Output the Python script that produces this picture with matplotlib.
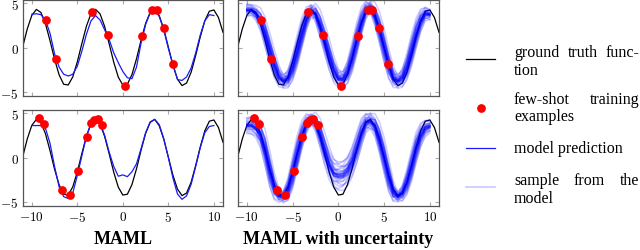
import numpy as np
import matplotlib
matplotlib.use("Agg")
from matplotlib import pyplot as plt

plt.rcParams['font.family'] = ['Liberation Serif', 'DejaVu Serif']
plt.rcParams['mathtext.fontset'] = 'cm'

# x positions for the curves
x_truth = np.arange(-11, 11.01, 0.5)
x_pred = np.arange(-10, 10.01, 0.5)

truth = [0.08, 2.09, 3.62, 4.29, 3.95, 2.68, 0.78, -1.31, -3.07, -4.13, -4.21,
         -3.30, -1.60, 0.46, 2.41, 3.81, 4.30, 3.78, 2.37, 0.41, -1.65, -3.33,
         -4.22, -4.12, -3.04, -1.26, 0.83, 2.71, 3.96, 4.29, 3.57, 2.05, 0.03,
         -1.99, -3.55, -4.28, -3.99, -2.77, -0.89, 1.19, 3.00, 4.09, 4.23, 3.38, 1.72]

# task 1 (top row)
train_x_top = [-8.45, -7.35, -3.34, -1.68, 0.24, 2.12, 3.23, 3.70, 4.48, 5.47]
train_y_top = [3.15, -1.30, 4.00, 1.38, -4.35, 1.27, 4.27, 4.27, 2.17, -1.80]
maml_top = [3.75, 3.8, 3.7, 3.1, 1.6, -0.7, -2.2, -3.0, -3.2, -3.0, -2.1,
            -0.4, 1.5, 3.0, 3.6, 3.1, 2.0, 0.9, -0.6, -1.7, -2.7, -3.4, -3.5,
            -2.2, 0.5, 2.6, 3.9, 4.25, 3.5, 2.0, -0.1, -1.9, -3.6, -3.7, -3.3,
            -2.3, -0.6, 1.4, 3.0, 3.7, 3.6]
unc_mean_top = [4.2, 4.2, 3.8, 3.0, 1.5, -0.3, -2.0, -3.3, -3.8, -3.5, -2.3,
                -0.5, 1.5, 3.2, 4.1, 3.8, 2.5, 0.8, -1.0, -2.6, -3.5, -3.6, -2.8,
                -1.2, 0.8, 2.8, 4.2, 4.5, 3.6, 2.0, 0.0, -2.0, -3.4, -3.8, -3.4,
                -2.2, -0.4, 1.5, 3.0, 3.8, 3.7]
unc_spread_top = [0.7, 0.6, 0.6, 0.7, 0.8, 0.8, 0.8, 0.8, 0.8, 0.8, 0.8,
                  0.8, 0.8, 0.7, 0.7, 0.7, 0.8, 0.8, 0.9, 0.9, 0.9, 0.9, 0.8,
                  0.8, 0.8, 0.7, 0.7, 0.6, 0.7, 0.8, 0.8, 0.8, 0.8, 0.8, 0.8,
                  0.8, 0.9, 0.9, 0.8, 0.7, 0.6]

# task 2 (bottom row)
train_x_bot = [-9.23, -8.64, -6.72, -5.80, -4.88, -3.96, -3.48, -3.15, -2.74, -2.27]
train_y_bot = [4.46, 3.74, -3.60, -4.23, -1.54, 2.32, 3.90, 4.20, 4.38, 3.63]
maml_bot = [3.6, 3.6, 3.6, 3.3, 1.6, -1.0, -3.3, -4.4, -4.6, -4.0, -2.0,
            0.2, 2.4, 3.8, 4.3, 3.9, 2.5, 0.6, -1.0, -2.1, -1.95, -2.15, -1.6,
            -0.7, 1.0, 2.8, 4.0, 4.3, 3.7, 2.1, 0.0, -2.3, -4.1, -4.7, -4.3,
            -3.0, -1.0, 1.1, 2.8, 3.5, 3.6]
unc_mean_bot = [3.6, 3.6, 3.3, 2.5, 0.8, -1.5, -3.4, -4.3, -4.4, -3.6, -1.8,
                0.4, 2.4, 3.8, 4.3, 3.9, 2.6, 0.8, -0.8, -1.8, -2.1, -2.0, -1.5,
                -0.5, 1.0, 2.7, 3.9, 4.1, 3.5, 2.0, 0.0, -2.2, -3.9, -4.4, -4.0,
                -2.8, -1.0, 1.0, 2.5, 3.3, 3.5]
unc_spread_bot = [0.9, 1.0, 1.0, 1.0, 1.0, 0.9, 0.8, 0.6, 0.6, 0.7, 0.8,
                  0.8, 0.8, 0.7, 0.6, 0.7, 0.8, 1.0, 1.3, 1.5, 1.6, 1.6, 1.5,
                  1.3, 1.1, 1.0, 0.9, 0.9, 0.8, 0.8, 0.8, 0.8, 0.6, 0.6, 0.6,
                  0.7, 0.8, 0.9, 0.9, 0.8, 0.7]

# where each drawn sample sits: vertical offset and sideways shift (in x units)
sample_pos = [-1.0, -0.85, -0.7, -0.55, -0.45, -0.35, -0.28, -0.2, -0.15, -0.1,
              -0.06, -0.03, 0.0, 0.02, 0.05, 0.08, 0.12, 0.16, 0.2, 0.25, 0.3,
              0.38, 0.46, 0.55, 0.65, 0.78, 0.9, 1.0,
              -0.12, -0.04, 0.04, 0.1, -0.08, 0.14]
sample_shift = [0.12, -0.18, 0.03, 0.25, -0.09, 0.15, -0.27, 0.06, -0.03, 0.18,
                -0.12, 0.0, 0.09, -0.21, 0.27, -0.06, 0.03, -0.15, 0.21, -0.24,
                0.06, 0.15, -0.09, -0.3, 0.1, 0.3, -0.13, 0.04,
                0.02, -0.05, 0.05, -0.02, 0.08, -0.08]

titles = ["MAML", "MAML with uncertainty"]
legend_rows = [
    (["ground", "truth", "func-"], ["tion"]),
    (["few-shot", "training"], ["examples"]),
    (["model", "prediction"], None),
    (["sample", "from", "the"], ["model"]),
]

frame_col = '#555555'
tick_col = '#aaaaaa'
sample_col = '#c8c8ff'
pred_col = '#1a1aff'


def style_axes(ax, xlabels, ylabels):
    ax.set_xlim(-11, 11)
    ax.set_ylim(-5.45, 5.35)
    ax.set_xticks([-10, -5, 0, 5, 10])
    ax.set_yticks([-5, 0, 5])
    ax.tick_params(direction='in', length=3, width=0.8, color=tick_col,
                   top=True, right=True, labelsize=9.5, pad=3,
                   labelbottom=xlabels, labelleft=ylabels)
    if xlabels:
        ax.set_xticklabels(['$-10$', '$-5$', '$0$', '$5$', '$10$'])
    if ylabels:
        ax.set_yticklabels(['$-5$', '$0$', '$5$'])
    for s in ax.spines.values():
        s.set_color(frame_col)
        s.set_linewidth(0.9)


def draw_points(ax, tx, ty):
    ax.plot(tx, ty, 'o', color='red', ms=6.3, mec='none', zorder=5)


fig = plt.figure(figsize=(6.4, 2.51), dpi=100)
W, H = 640, 251
rows = [
    (train_x_top, train_y_top, maml_top, unc_mean_top, unc_spread_top, 154),
    (train_x_bot, train_y_bot, maml_bot, unc_mean_bot, unc_spread_bot, 44),
]
for i, (tx, ty, pred, mean, spread, y0) in enumerate(rows):
    last = i == 1
    ax1 = fig.add_axes([22.7 / W, y0 / H, 200.3 / W, 96 / H])
    ax1.plot(x_truth, truth, color='black', lw=0.9)
    ax1.plot(x_pred, pred, color=pred_col, lw=0.9)
    draw_points(ax1, tx, ty)
    style_axes(ax1, last, True)

    ax2 = fig.add_axes([237.7 / W, y0 / H, 201.3 / W, 96 / H])
    ax2.plot(x_truth, truth, color='black', lw=0.9)
    mean = np.array(mean)
    spread = np.array(spread)
    slope = np.gradient(mean, x_pred)
    for p, s in zip(sample_pos, sample_shift):
        ax2.plot(x_pred, mean + p * spread - s * slope * 1.3,
                 color='blue', alpha=0.2, lw=1.1)
    draw_points(ax2, tx, ty)
    style_axes(ax2, last, False)

fig.text(123.5 / W, 1 - 240 / H, titles[0], ha='center', va='center',
         fontsize=13, fontweight='bold')
fig.text(338 / W, 1 - 240 / H, titles[1], ha='center', va='center',
         fontsize=13, fontweight='bold')

# legend drawn by hand in pixel units
lax = fig.add_axes([440 / W, 0, 200 / W, 1])
lax.set_xlim(440, 640)
lax.set_ylim(H, 0)
lax.axis('off')
lax.plot([466, 495], [60.3, 60.3], color='black', lw=0.9)
lax.plot([480.7], [108.7], 'o', color='red', ms=6.3, mec='none')
lax.plot([466, 495], [149, 149], color=pred_col, lw=0.9)
lax.plot([466, 495], [188.3, 188.3], color=sample_col, lw=1.2)

fig.canvas.draw()
renderer = fig.canvas.get_renderer()
x0, x1 = 514, 639.5
line_y = [(53.3, 71), (100, 117.3), (148.7, None), (181, 199)]
for (first, second), (ya, yb) in zip(legend_rows, line_y):
    if second is None:
        lax.text(x0, ya, " ".join(first), ha='left', va='center', fontsize=11.5)
        continue
    words = [lax.text(0, ya, w, ha='left', va='center', fontsize=11.5) for w in first]
    widths = [t.get_window_extent(renderer).width for t in words]
    gap = (x1 - x0 - sum(widths)) / (len(words) - 1)
    pos = x0
    for t, wd in zip(words, widths):
        t.set_x(pos)
        pos += wd + gap
    lax.text(x0, yb, " ".join(second), ha='left', va='center', fontsize=11.5)

fig.savefig("out.png", dpi=100)
